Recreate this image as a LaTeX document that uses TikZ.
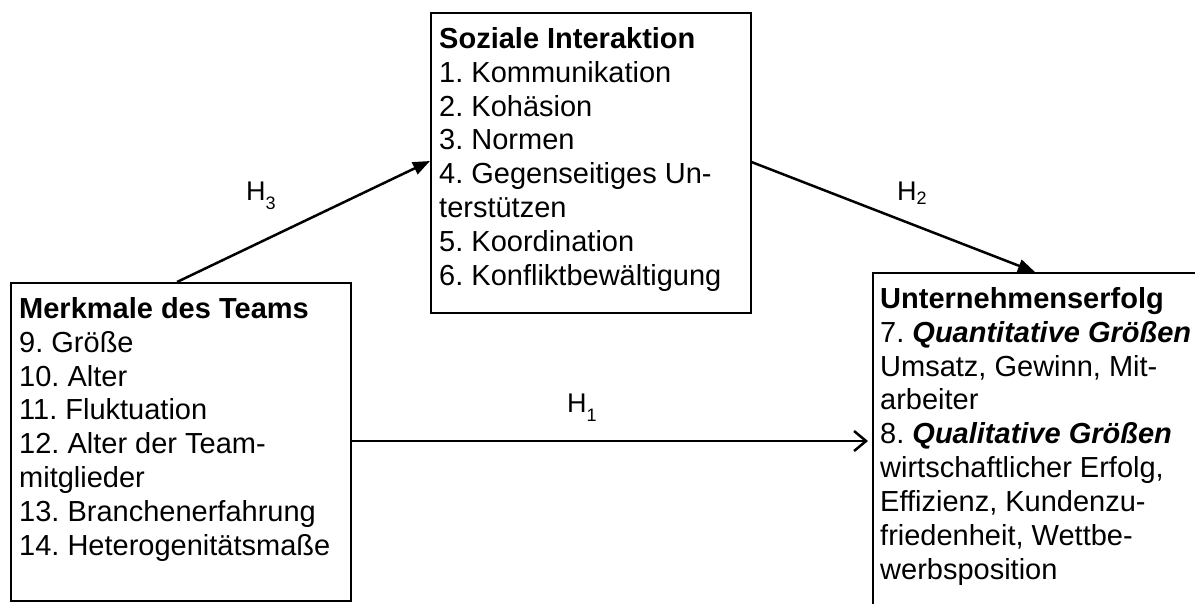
\documentclass[tikz,border=0pt]{standalone}
\usepackage{fontspec}
\setmainfont{Liberation Sans}
\usetikzlibrary{arrows.meta}
\frenchspacing

\tikzset{
  box/.style={draw=black, line width=1.5pt, inner sep=0pt, anchor=north west},
  boxtext/.style={inner sep=0pt, anchor=north west, align=left,
                  font={\fontsize{29}{33.9}\selectfont}},
  hlabel/.style={inner sep=0pt, anchor=base west, font={\fontsize{27}{30}\selectfont}},
  solidarrow/.style={line width=2.5pt, -{Triangle[length=17pt,width=13pt]}},
  openarrow/.style={line width=2.5pt, -{Straight Barb[length=12pt,width=20pt,line width=2.5pt]}}
}
\newcommand{\hyp}[2]{H\raisebox{#2}{\fontsize{18}{18}\selectfont #1}}

\begin{document}
\begin{tikzpicture}[x=1pt, y=-1pt]
  \clip (0,0) rectangle (1195,603);
  \fill[white] (0,0) rectangle (1195,603);

  % the three boxes
  \node[box, minimum width=320pt, minimum height=300pt] (soz) at (430,12) {};
  \node[box, minimum width=340pt, minimum height=318pt] (team) at (10,282) {};
  \node[box, minimum width=360pt, minimum height=360pt] (erfolg) at (872,272) {};

  % box contents (first baselines at 48, 318 and 308)
  \node[boxtext] (soztext) at (439,27) {\textbf{Soziale Interaktion}\\
    1. Kommunikation\\
    2. Kohäsion\\
    3. Normen\\
    4. Gegenseitiges Un-\\
    terstützen\\
    5. Koordination\\
    6. Konfliktbewältigung};

  \node[boxtext] (teamtext) at (19,297) {\textbf{Merkmale des Teams}\\
    9. Größe\\
    10. Alter\\
    11. Fluktuation\\
    12. Alter der Team-\\
    mitglieder\\
    13. Branchenerfahrung\\
    14. Heterogenitätsmaße};

  \node[boxtext] (erfolgtext) at (880,287) {\textbf{Unternehmenserfolg}\\
    7. \textbf{\textit{Quantitative Größen}}\\
    Umsatz, Gewinn, Mit-\\
    arbeiter\\
    8. \textbf{\textit{Qualitative Größen}}\\
    wirtschaftlicher Erfolg,\\
    Effizienz, Kundenzu-\\
    friedenheit, Wettbe-\\
    werbsposition};

  % hypotheses
  \draw[solidarrow] ([xshift=167pt]team.north west) -- ([yshift=-149pt]soz.north west);
  \draw[solidarrow] ([yshift=-150pt]soz.north east) -- ([xshift=163pt]erfolg.north west);
  \draw[openarrow] ([yshift=-159pt]team.north east) -- ([xshift=-4pt,yshift=-169pt]erfolg.north west);

  \node[hlabel] (h3) at (246,200) {\hyp{3}{-9pt}};
  \node[hlabel] (h2) at (897,200) {\hyp{2}{-4pt}};
  \node[hlabel] (h1) at (567,412) {\hyp{1}{-9pt}};
\end{tikzpicture}
\end{document}
